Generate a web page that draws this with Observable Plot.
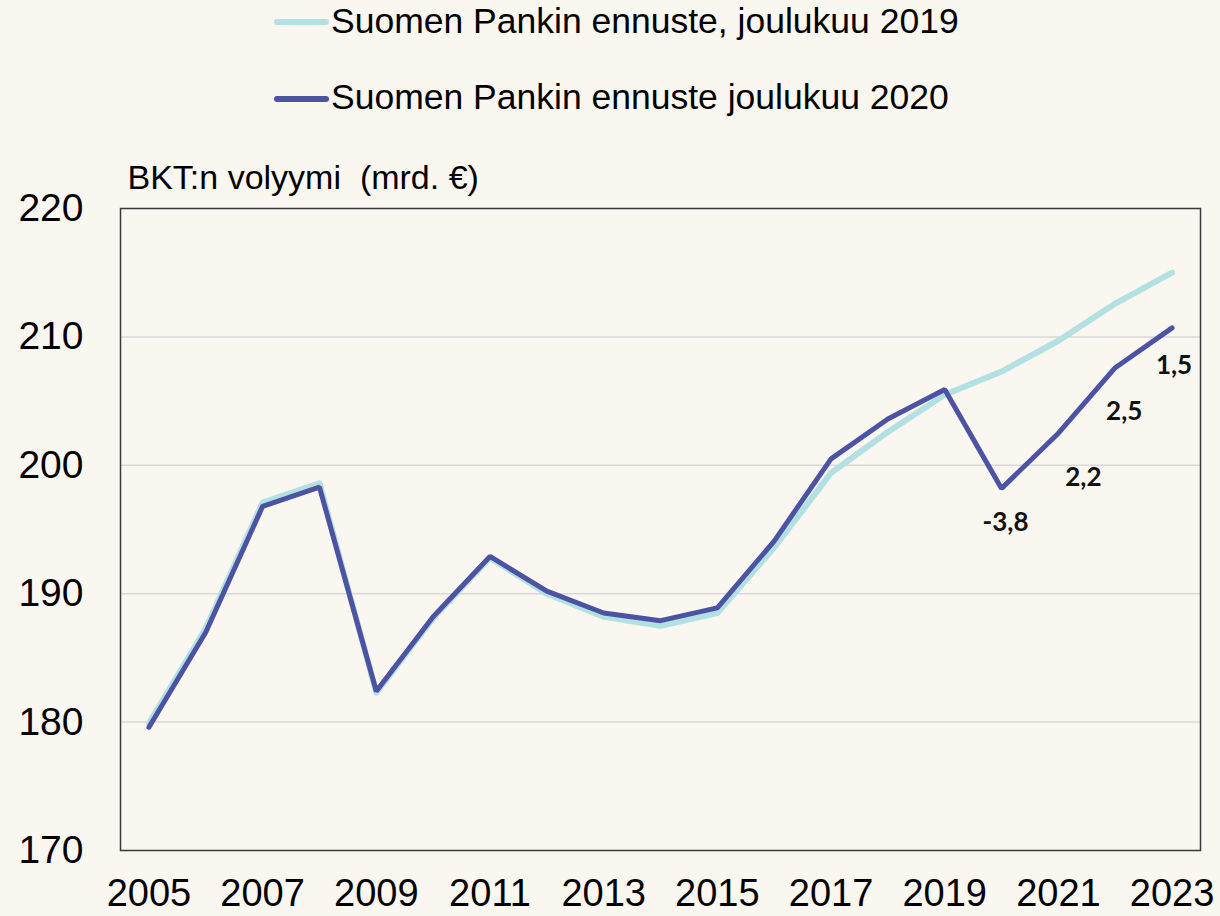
<!DOCTYPE html>
<html><head><meta charset="utf-8">
<script src="https://cdn.jsdelivr.net/npm/d3@7"></script>
<script src="https://cdn.jsdelivr.net/npm/@observablehq/plot@0.6"></script>
<style>
html,body{margin:0;padding:0;background:#faf6f0;font-family:"Liberation Sans",Arial,sans-serif;}
#legend{position:relative;height:130px;width:1220px;}
.swatch{position:absolute;left:274px;width:55px;height:6px;border-radius:3px;}
.ltext{position:absolute;left:331px;font-size:35.5px;line-height:35px;color:#000;white-space:nowrap;}
#chart svg{display:block;}
</style></head><body>
<div id="legend"></div>
<div id="chart"></div>
<script>
const years = [2005,2006,2007,2008,2009,2010,2011,2012,2013,2014,2015,2016,2017,2018,2019,2020,2021,2022,2023];
const forecast2019 = [179.9,187.3,197.1,198.6,182.3,188.1,192.8,190.0,188.2,187.5,188.5,193.6,199.4,202.6,205.5,207.3,209.7,212.6,215.0];
const forecast2020 = [179.6,187.0,196.8,198.3,182.4,188.2,192.9,190.2,188.5,187.9,188.9,194.1,200.5,203.6,205.9,198.2,202.5,207.6,210.7];
const seriesNames = ["Suomen Pankin ennuste, joulukuu 2019", "Suomen Pankin ennuste joulukuu 2020"];
const yTicks = [170,180,190,200,210,220];
const gridTicks = [180,190,200,210];
const xTicks = [2005,2007,2009,2011,2013,2015,2017,2019,2021,2023];
const labelYears = [2020,2021,2022,2023];
const labelTexts = ["-3,8","2,2","2,5","1,5"];
const yTitle = "BKT:n volyymi\u00a0 (mrd. €)";

const colors = ["#b3e0e2", "#4b53a2"];

// legend
const legend = document.getElementById("legend");
[[4,19],[80,96]].forEach(([textTop, swTop], i) => {
  const sw = document.createElement("div");
  sw.className = "swatch";
  sw.style.top = swTop + "px";
  sw.style.background = colors[i];
  legend.appendChild(sw);
  const t = document.createElement("div");
  t.className = "ltext";
  t.style.top = textTop + "px";
  t.textContent = seriesNames[i];
  legend.appendChild(t);
});

const rows2019 = years.map((y, i) => ({year: y, value: forecast2019[i]}));
const rows2020 = years.map((y, i) => ({year: y, value: forecast2020[i]}));
const labelRows = labelYears.map((y, i) => ({year: y, value: forecast2020[years.indexOf(y)], text: labelTexts[i]}));
const nudges = [[4,34],[25,44],[9,44],[2,38]];

const chart = Plot.plot({
  width: 1220,
  height: 786,
  marginTop: 78,
  marginBottom: 66,
  marginLeft: 120,
  marginRight: 20,
  style: {background: "transparent", fontFamily: "'Liberation Sans', Arial, sans-serif", color: "#000"},
  x: {domain: [2004.5, 2023.5], ticks: xTicks, tickFormat: d => String(d), tickSize: 0, tickPadding: 29, label: null},
  y: {domain: [170, 220], ticks: yTicks, tickSize: 0, tickPadding: 37, label: null},
  marks: [
    Plot.gridY(gridTicks, {stroke: "#d9d9d9", strokeOpacity: 1, strokeWidth: 1.5}),
    Plot.frame({stroke: "#3a3a3a", strokeWidth: 1.5}),
    Plot.axisY({ticks: yTicks, tickSize: 0, tickPadding: 37, fontSize: 39, label: null}),
    Plot.axisX({ticks: xTicks, tickFormat: d => String(d), tickSize: 0, tickPadding: 29, fontSize: 38, label: null}),
    Plot.line(rows2019, {x: "year", y: "value", stroke: colors[0], strokeWidth: 6, strokeLinejoin: "round", strokeLinecap: "round"}),
    Plot.line(rows2020, {x: "year", y: "value", stroke: colors[1], strokeWidth: 5, strokeLinejoin: "miter", strokeLinecap: "round"}),
    ...labelRows.map((r, i) => Plot.text([r], {x: "year", y: "value", text: "text", dx: nudges[i][0], dy: nudges[i][1],
      fontFamily: "Lato", fontWeight: "bold", fontSize: 26, fill: "#111", textAnchor: "middle", lineAnchor: "middle"})),
    Plot.text([yTitle], {frameAnchor: "top-left", dx: 7, dy: -20, lineAnchor: "bottom", textAnchor: "start", fontSize: 34, fill: "#000"})
  ]
});
document.getElementById("chart").appendChild(chart);
</script>
</body></html>
